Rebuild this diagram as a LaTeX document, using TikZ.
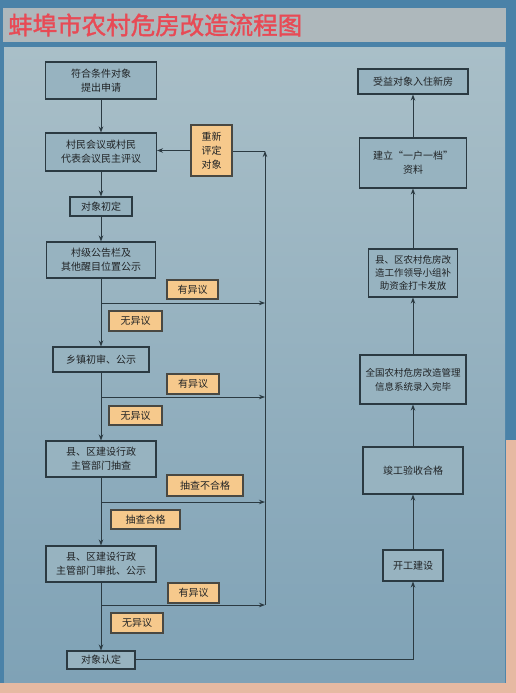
\documentclass[tikz,border=0pt]{standalone}
\usepackage{fontspec}
\setmainfont{Noto Sans CJK SC}
\newfontfamily\titlefont[FakeBold=1.5]{Noto Sans CJK SC}
\usetikzlibrary{arrows.meta}
\definecolor{outerblue}{HTML}{4A82A8}
\definecolor{titlegray}{HTML}{AEB8BC}
\definecolor{titlered}{HTML}{E84A55}
\definecolor{paneltop}{HTML}{A9BFC8}
\definecolor{panelbot}{HTML}{7FA2B6}
\definecolor{boxfill}{HTML}{97B3C0}
\definecolor{orangefill}{HTML}{F6C98C}
\definecolor{linecol}{HTML}{2B3A42}
\definecolor{peach}{HTML}{E6B9A2}
\definecolor{txt}{HTML}{202325}
\tikzset{
  stepbox/.style={draw=linecol, line width=1.1pt, fill=boxfill, align=center, inner sep=1pt,
     font=\fontsize{10}{14}\selectfont, text=txt},
  notebox/.style={draw=linecol!80!brown, line width=1.1pt, fill=orangefill, align=center, inner sep=1pt,
     font=\fontsize{10}{14}\selectfont, text=txt},
  flow/.style={draw=linecol, line width=0.9pt, -{Stealth[length=6pt,width=4.5pt]}},
  plain/.style={draw=linecol, line width=0.9pt}
}
\begin{document}
\begin{tikzpicture}[x=1pt,y=-1pt]
\useasboundingbox (0,0) rectangle (516,693);
% background
\fill[outerblue] (0,0) rectangle (516,693);
\fill[peach] (0,683) rectangle (516,693);
\fill[peach] (506,440) rectangle (516,693);
\fill[titlegray] (3,8) rectangle (506,42);
\shade[top color=paneltop, bottom color=panelbot] (4,48) rectangle (505,682);
\node[anchor=west, text=titlered, font=\titlefont\fontsize{24.5}{26}\selectfont, inner sep=1pt] (title) at (7,25) {蚌埠市农村危房改造流程图};

% left column
\node[stepbox, minimum width=111pt, minimum height=37pt] (b1) at (101,80.5) {符合条件对象\\提出申请};
\node[stepbox, minimum width=111pt, minimum height=38pt] (b2) at (101,152) {村民会议或村民\\代表会议民主评议};
\node[stepbox, minimum width=62pt, minimum height=19pt] (b3) at (101,206.5) {对象初定};
\node[stepbox, minimum width=109pt, minimum height=36pt] (b4) at (101,260) {村级公告栏及\\其他醒目位置公示};
\node[stepbox, minimum width=96pt, minimum height=25pt] (b5) at (101,359.5) {乡镇初审、公示};
\node[stepbox, minimum width=110pt, minimum height=36pt] (b6) at (101,459) {县、区建设行政\\主管部门抽查};
\node[stepbox, minimum width=110pt, minimum height=36pt] (b7) at (101,564) {县、区建设行政\\主管部门审批、公示};
\node[stepbox, minimum width=68pt, minimum height=18pt] (b8) at (101,660) {对象认定};

% orange notes
\node[notebox, minimum width=41pt, minimum height=51pt] (re) at (211.5,150.5) {重新\\评定\\对象};
\node[notebox, minimum width=51pt, minimum height=19pt] (y1) at (192.5,289.5) {有异议};
\node[notebox, minimum width=53pt, minimum height=20pt] (n1) at (135.5,321) {无异议};
\node[notebox, minimum width=52pt, minimum height=20pt] (y2) at (193,384) {有异议};
\node[notebox, minimum width=53pt, minimum height=19pt] (n2) at (135.5,415.5) {无异议};
\node[notebox, minimum width=76pt, minimum height=21pt] (f1) at (205,485.5) {抽查不合格};
\node[notebox, minimum width=69pt, minimum height=19pt] (p1) at (145.5,519.5) {抽查合格};
\node[notebox, minimum width=51pt, minimum height=20pt] (y3) at (193.5,593) {有异议};
\node[notebox, minimum width=52pt, minimum height=20pt] (n3) at (137,623) {无异议};

% right column
\node[stepbox, minimum width=110pt, minimum height=25pt] (r1) at (413,81.5) {受益对象入住新房};
\node[stepbox, minimum width=107pt, minimum height=50pt] (r2) at (413,163) {建立“一户一档”\\资料};
\node[stepbox, minimum width=89pt, minimum height=48pt, font=\fontsize{9.5}{13}\selectfont] (r3) at (413,273) {县、区农村危房改\\造工作领导小组补\\助资金打卡发放};
\node[stepbox, minimum width=106pt, minimum height=49pt, font=\fontsize{9.5}{14}\selectfont] (r4) at (413,379.5) {全国农村危房改造管理\\信息系统录入完毕};
\node[stepbox, minimum width=100pt, minimum height=47pt] (r5) at (413,470.5) {竣工验收合格};
\node[stepbox, minimum width=60pt, minimum height=31pt] (r6) at (413,565.5) {开工建设};

% main vertical flow
\draw[flow] (b1) -- (b2);
\draw[flow] (b2) -- (b3);
\draw[flow] (b3) -- (b4);
\draw[flow] (b4) -- (b5);
\draw[flow] (b5) -- (b6);
\draw[flow] (b6) -- (b7);
\draw[flow] (b7) -- (b8);

% branches to the return line
\coordinate (j1) at (101,303);
\coordinate (e1) at (265,303);
\coordinate (j2) at (101,397);
\coordinate (e2) at (265,397);
\coordinate (j3) at (101,502);
\coordinate (e3) at (265,502);
\coordinate (j4) at (101,605);
\coordinate (e4) at (265,605);
\coordinate (rtop) at (265,151);
\draw[flow] (j1) -- (e1);
\draw[flow] (j2) -- (e2);
\draw[flow] (j3) -- (e3);
\draw[flow] (j4) -- (e4);
\draw[flow] (e4) -- (rtop);
\draw[plain] (rtop) -- (re.east |- rtop);
\draw[flow] (re.west) -- (b2.east |- re.west);

% to right column
\coordinate (corner) at (413,659);
\draw[flow] (b8.east |- corner) -- (corner) -- (r6.south);
\draw[flow] (r6) -- (r5);
\draw[flow] (r5) -- (r4);
\draw[flow] (r4) -- (r3);
\draw[flow] (r3) -- (r2);
\draw[flow] (r2) -- (r1);
\end{tikzpicture}
\end{document}
